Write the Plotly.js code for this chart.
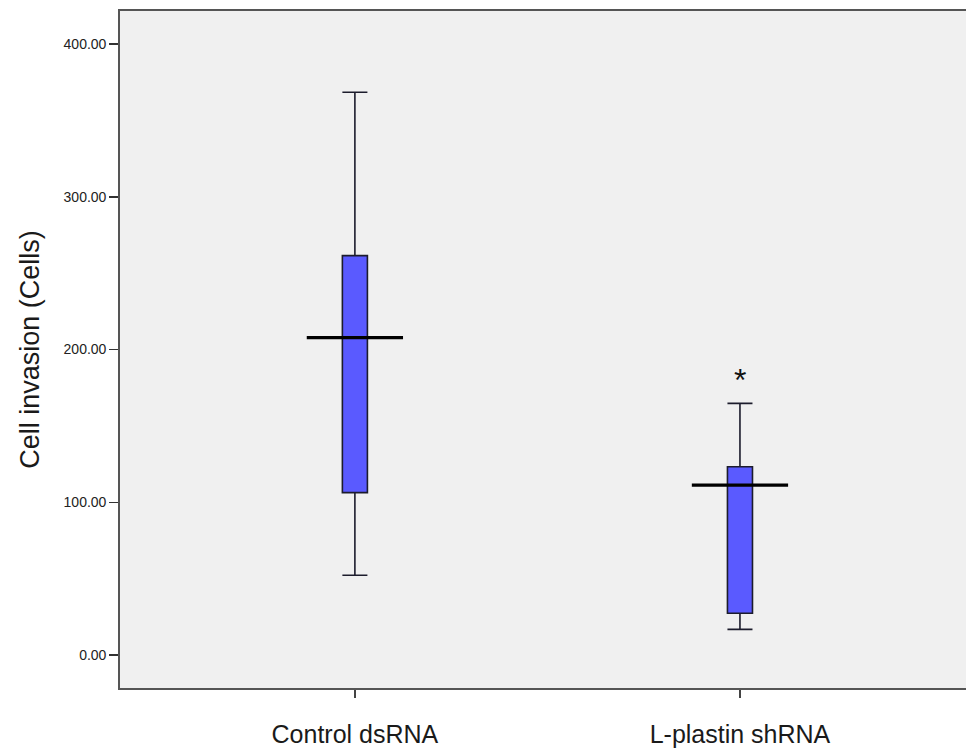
<!DOCTYPE html>
<html>
<head>
<meta charset="utf-8">
<script src="https://cdn.plot.ly/plotly-3.0.1.min.js"></script>
<style>html,body{margin:0;padding:0;background:#fff;}#chart{width:966px;height:753px;}</style>
</head>
<body>
<div id="chart"></div>
<script>
// Data
const categories = ["Control dsRNA", "L-plastin shRNA"];
const positions = [0, 1];
const lowerWhisker = [52.2, 16.8];
const q1Values = [106.3, 27.3];
const medianValues = [207.8, 111.3];
const q3Values = [261.5, 123.3];
const upperWhisker = [368.5, 164.8];
const starGroup = 1;
const starValue = 180;
const yTicks = [0, 100, 200, 300, 400];

const boxHalf = 0.0325;
const medHalf = 0.125;

const traces = [];
positions.forEach((p, i) => {
  traces.push({
    type: 'box',
    x: [p],
    q1: [q1Values[i]], median: [medianValues[i]], q3: [q3Values[i]],
    lowerfence: [lowerWhisker[i]], upperfence: [upperWhisker[i]],
    width: boxHalf * 2,
    whiskerwidth: 1,
    fillcolor: '#5a5aff',
    line: {color: '#1c1c2c', width: 1.6},
    hoverinfo: 'skip',
    showlegend: false
  });
  traces.push({
    type: 'scatter', mode: 'lines',
    x: [p - medHalf, p + medHalf],
    y: [medianValues[i], medianValues[i]],
    line: {color: '#000', width: 3.2},
    hoverinfo: 'skip', showlegend: false
  });
});

const layout = {
  width: 966, height: 753,
  margin: {l: 120, r: 0, t: 11, b: 65},
  paper_bgcolor: '#ffffff',
  plot_bgcolor: '#f0f0f0',
  font: {family: 'Liberation Sans, Arial, sans-serif', color: '#222'},
  xaxis: {
    range: [-0.61, 1.587],
    tickvals: positions, ticktext: categories,
    ticks: 'outside', ticklen: 8, tickcolor: '#444', tickwidth: 1.5,
    ticklabelstandoff: 15,
    tickfont: {size: 25, color: '#1a1a1a'},
    showgrid: false, zeroline: false,
    showline: true, linecolor: '#555', linewidth: 1.8, mirror: true
  },
  yaxis: {
    range: [-21.6, 421.7],
    tickvals: yTicks, tickformat: '.2f',
    ticks: 'outside', ticklen: 9, tickcolor: '#333', tickwidth: 1.5,
    tickfont: {size: 14, color: '#222'},
    showgrid: false, zeroline: false,
    showline: true, linecolor: '#555', linewidth: 1.8,
    title: {text: 'Cell invasion (Cells)', font: {size: 27, color: '#1a1a1a'}, standoff: 16}
  },
  annotations: [{
    x: starGroup, y: starValue, text: '*', showarrow: false,
    font: {size: 32, color: '#111'}, xanchor: 'center', yanchor: 'middle'
  }]
};

Plotly.newPlot('chart', traces, layout, {displayModeBar: false, staticPlot: true});
</script>
</body>
</html>
